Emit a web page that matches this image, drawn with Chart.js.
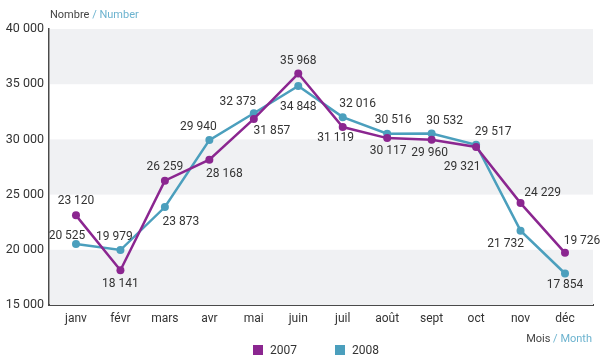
<!DOCTYPE html>
<html>
<head>
<meta charset="utf-8">
<script src="https://cdn.jsdelivr.net/npm/chart.js@4"></script>
<style>
  html, body { margin: 0; padding: 0; background: #fff; }
  #wrap { width: 601px; height: 356px; position: relative; }
</style>
</head>
<body>
<div id="wrap"><canvas id="chart"></canvas></div>
<script>
// Monthly counts, 2007 vs 2008
const months = ['janv', 'févr', 'mars', 'avr', 'mai', 'juin', 'juil', 'août', 'sept', 'oct', 'nov', 'déc'];
const values2007 = [23120, 18141, 26259, 28168, 31857, 35968, 31119, 30117, 29960, 29321, 24229, 19726];
const values2008 = [20525, 19979, 23873, 29940, 32373, 34848, 32016, 30516, 30532, 29517, 21732, 17854];
const yTicks = [15000, 20000, 25000, 30000, 35000, 40000];

const PURPLE = '#8b2690';
const TEAL = '#4b9fbd';
const FONT = 'Roboto, "DejaVu Sans", sans-serif';

// label offsets (dx, dy) relative to each point, per series
const labelOffsets = [
  [[0, -14], [0, 14], [0, -14], [15, 14], [18, 12], [0, -13], [-7, 11], [1, 13], [-2, 13], [-14, 20], [22, -10], [17, -12]],
  [[-9, -8], [-6, -13], [16, 15], [-11, -13], [-16, -11], [0, 21], [15, -13], [6, -14], [13, -13], [17, -13], [-15, 13], [0, 12]]
];

const fmt = v => String(v).replace(/\B(?=(\d{3})+(?!\d))/g, ' ');

// alternating grey bands between y gridlines
const bandsPlugin = {
  id: 'bands',
  beforeDatasetsDraw(chart) {
    const { ctx, chartArea, scales: { y } } = chart;
    ctx.save();
    ctx.fillStyle = '#f0f1f3';
    for (let i = 0; i < yTicks.length - 1; i += 2) {
      const top = y.getPixelForValue(yTicks[i + 1]);
      const bottom = y.getPixelForValue(yTicks[i]);
      ctx.fillRect(chartArea.left + 1, top, chartArea.right - chartArea.left - 1, bottom - top);
    }
    ctx.restore();
  }
};

// value labels next to each point
const valueLabels = {
  id: 'valueLabels',
  afterDatasetsDraw(chart) {
    const { ctx } = chart;
    ctx.save();
    ctx.font = '12px ' + FONT;
    ctx.fillStyle = '#333';
    ctx.textAlign = 'center';
    ctx.textBaseline = 'middle';
    chart.data.datasets.forEach((ds, di) => {
      chart.getDatasetMeta(di).data.forEach((pt, i) => {
        const [dx, dy] = labelOffsets[di][i];
        ctx.fillText(fmt(ds.data[i].y), pt.x + dx, pt.y + dy);
      });
    });
    ctx.restore();
  }
};

// axis captions and legend
const captions = {
  id: 'captions',
  afterDraw(chart) {
    const { ctx } = chart;
    ctx.save();
    ctx.font = '11px ' + FONT;
    ctx.textBaseline = 'middle';
    ctx.textAlign = 'left';
    let x = 50;
    ctx.fillStyle = '#444';
    ctx.fillText('Nombre ', x, 15);
    x += ctx.measureText('Nombre ').width;
    ctx.fillStyle = '#6cb3cf';
    ctx.fillText('/ Number', x, 15);

    ctx.textAlign = 'right';
    const right = 592;
    ctx.fillText('/ Month', right, 339);
    ctx.fillStyle = '#444';
    ctx.fillText('Mois ', right - ctx.measureText('/ Month').width, 339);

    ctx.font = '12px ' + FONT;
    ctx.textAlign = 'left';
    const legendX = [253, 335];
    chart.data.datasets.forEach((ds, i) => {
      ctx.fillStyle = ds.borderColor;
      ctx.fillRect(legendX[i], 345, 10, 10);
      ctx.fillStyle = '#333';
      ctx.fillText(ds.label, legendX[i] + 17, 350.5);
    });
    ctx.restore();
  }
};

const toPoints = arr => arr.map((v, i) => ({ x: i, y: v }));

new Chart(document.getElementById('chart'), {
  type: 'line',
  data: {
    datasets: [
      {
        label: '2007',
        data: toPoints(values2007),
        borderColor: PURPLE,
        backgroundColor: PURPLE,
        borderWidth: 2.5,
        pointRadius: 4,
        pointBorderWidth: 0,
        tension: 0
      },
      {
        label: '2008',
        data: toPoints(values2008),
        borderColor: TEAL,
        backgroundColor: TEAL,
        borderWidth: 2.5,
        pointRadius: 4,
        pointBorderWidth: 0,
        tension: 0
      }
    ]
  },
  options: {
    responsive: true,
    maintainAspectRatio: false,
    animation: false,
    layout: { padding: { top: 29, right: 8, bottom: 31, left: 0 } },
    plugins: {
      legend: { display: false },
      tooltip: { enabled: false }
    },
    scales: {
      x: {
        type: 'linear',
        min: -0.607,
        max: 11.63,
        afterBuildTicks: scale => { scale.ticks = months.map((m, i) => ({ value: i })); },
        afterFit: scale => { scale.height = 20; },
        grid: { display: false, drawTicks: false },
        border: { display: true, color: '#4a4a4a', width: 2 },
        ticks: {
          padding: 7,
          color: '#333',
          font: { family: FONT, size: 12 },
          callback: v => months[v]
        }
      },
      y: {
        min: 15000,
        max: 40000,
        afterBuildTicks: scale => { scale.ticks = yTicks.map(v => ({ value: v })); },
        afterFit: scale => { scale.width = 49; },
        grid: { display: false, drawTicks: false },
        border: { display: true, color: '#4a4a4a', width: 1.5 },
        ticks: {
          padding: 5,
          color: '#333',
          font: { family: FONT, size: 12.5 },
          callback: v => fmt(v)
        }
      }
    }
  },
  plugins: [bandsPlugin, valueLabels, captions]
});
</script>
</body>
</html>
